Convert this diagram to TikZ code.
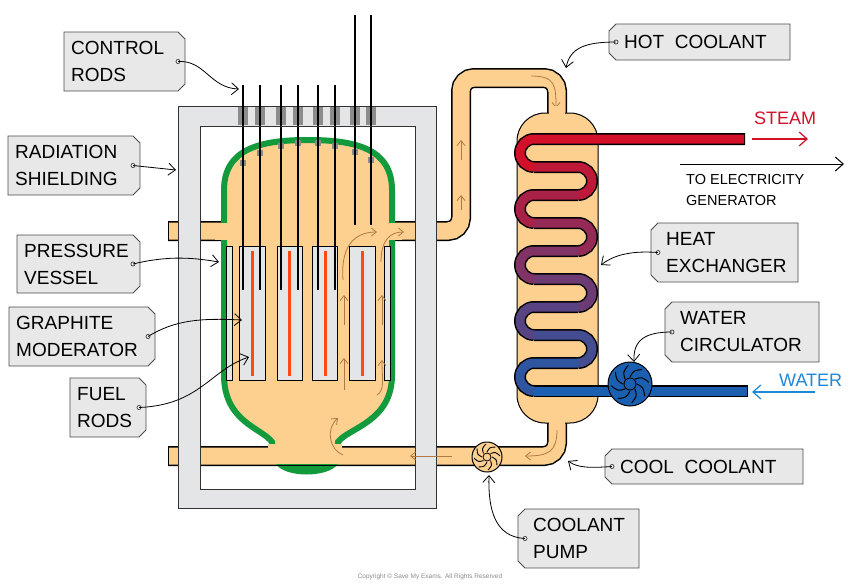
\documentclass[tikz,border=0pt]{standalone}
\usepackage{fontspec}
\setmainfont{Liberation Sans}
\usetikzlibrary{arrows.meta,calc}
\definecolor{cool}{HTML}{FDD08F}
\definecolor{vgreen}{HTML}{139A3C}
\definecolor{shield}{HTML}{E4E5E6}
\definecolor{tagfill}{HTML}{E8E8E8}
\definecolor{fuel}{HTML}{FF4A12}
\definecolor{steamred}{HTML}{D3102A}
\definecolor{waterblue}{HTML}{1A5FB0}
\definecolor{flow}{HTML}{B07A45}
\definecolor{lblue}{HTML}{1E88D8}
\tikzset{
  lbl/.style={font=\fontsize{19}{27}\selectfont, align=left, anchor=west, inner sep=0pt},
  tagshape/.style={fill=tagfill, draw=black!70, line width=0.9pt},
  hole/.style={draw=black!80, fill=white, line width=0.7pt},
  conn/.style={line width=0.8pt, -{Straight Barb[length=7pt,width=12pt]}},
  pipeout/.style={line width=20pt, black, rounded corners=13pt},
  pipein/.style={line width=17pt, cool, rounded corners=13pt},
  flowarr/.style={flow, line width=0.8pt, -{Straight Barb[length=5pt,width=8pt]}},
}
\newcommand\tagR[7]{% name x1 y1 x2 y2 text holename
  \draw[tagshape] (#2,#3) -- ({#4-7},#3) -- (#4,{#3+7}) -- (#4,{#5-7}) -- ({#4-7},#5) -- (#2,#5) -- cycle;
  \node[lbl] (#1) at ({#2+7},{(#3+#5)/2}) {#6};
  \coordinate (#7) at ({#4-7},{(#3+#5)/2});
  \draw[hole] (#7) circle (2pt);}
\newcommand\tagL[7]{%
  \draw[tagshape] ({#2+7},#3) -- (#4,#3) -- (#4,#5) -- ({#2+7},#5) -- (#2,{#5-7}) -- (#2,{#3+7}) -- cycle;
  \node[lbl] (#1) at ({#2+15},{(#3+#5)/2}) {#6};
  \coordinate (#7) at ({#2+7},{(#3+#5)/2});
  \draw[hole] (#7) circle (2pt);}
\begin{document}
\begin{tikzpicture}[x=1pt,y=-1pt]
\useasboundingbox (0,0) rectangle (854,584);
\fill[white] (0,0) rectangle (854,584);

% pipes
\draw[pipeout] (168,231) -- (461,231) -- (461,78) -- (557,78) -- (557,118);
\draw[pipeout] (168,456) -- (557,456) -- (557,418);
\draw[pipein] (169,231) -- (461,231) -- (461,78) -- (557,78) -- (557,118);
\draw[pipein] (169,456) -- (557,456) -- (557,418);

% vessel
\path[draw=vgreen, line width=6pt, fill=cool] (272,449) -- (272,442) .. controls (262,428) and (224,422) .. (224,375) -- (224,190) .. controls (224,148) and (262,140) .. (308,140) .. controls (354,140) and (392,148) .. (392,190) -- (392,375) .. controls (392,422) and (348,428) .. (338,442) -- (338,449);
\fill[vgreen] (276,464) .. controls (285,478) and (328,478) .. (338,464) -- cycle;
\fill[cool] (215,223) rectangle (232,240);
\fill[cool] (384,223) rectangle (402,240);
\fill[cool] (268,444) rectangle (342,456);
\draw[black, line width=1pt] (276,465) -- (338,465);

% dome gray pieces
\foreach \x/\y in {243/163,260/153,281/146,298/143,318/143,335/146,355/152,371/160}
  \fill[black!45] (\x-3,\y-3) rectangle (\x+3,\y+3);

% moderator blocks
\foreach \a/\b in {239/265,277/302,312/337,349/375,226/232,384/390}
  \draw[fill=shield, line width=0.9pt] (\a,246) rectangle (\b,380);
\foreach \x in {252,289,325,362}
  \draw[fuel, line width=3pt] (\x,251) -- (\x,376);

% control rods
\foreach \x in {243,260,281,298,318,335}
  \draw[line width=1.4pt] (\x,85) -- (\x,290);
\foreach \x in {355,371}
  \draw[line width=1.4pt] (\x,15) -- (\x,225);

% shielding
\path[fill=shield, draw=black!80, line width=0.9pt, even odd rule] (178,106) rectangle (436,508) (200,126) rectangle (415,489);
\foreach \x in {243,260,281,298,318,335,355,371}{
  \fill[black!45] (\x-5,107) rectangle (\x+5,125);
  \draw[line width=1.4pt] (\x,106) -- (\x,126);}

% flow arrows reactor
\draw[flowarr] (344,325) -- (344,295);
\draw[flowarr] (344,390) -- (344,358);
\draw[flowarr] (382,325) -- (382,295);
\draw[flowarr] (377,395) .. controls (385,390) and (382,380) .. (382,360);
\draw[flowarr] (343,280) .. controls (340,240) and (360,232) .. (377,232);
\draw[flowarr] (381,262) .. controls (381,240) and (390,232) .. (404,232);
\draw[flowarr] (343,455) .. controls (330,450) and (325,430) .. (338,418);
\draw[flowarr] (452,456) -- (410,456);
\draw[flowarr] (461,160) -- (461,140);
\draw[flowarr] (461,210) -- (461,195);
\draw[flowarr] (531,76) .. controls (555,76) and (556,85) .. (556,108);
\draw[flowarr] (557,430) .. controls (557,452) and (548,456) .. (525,456);

% heat exchanger
\draw[fill=cool, line width=1pt, rounded corners=28pt] (517,113) rectangle (598,423);
\fill[cool] (549,106) rectangle (565,116);
\fill[cool] (549,420) rectangle (565,430);

% coil
\foreach \w in {12,9}{
\foreach \i in {0,...,9}{
  \pgfmathsetmacro\yy{139+28*\i}
  \pgfmathtruncatemacro\pp{\i*11}
  \colorlet{segc}{waterblue!\pp!steamred}
  \ifnum\w=12 \colorlet{segc}{black}\fi
  \ifodd\i
    \ifnum\i=9
      \draw[segc, line width=\w pt] (534,\yy) -- ({\w==12?748:747},\yy);
    \else
      \draw[segc, line width=\w pt] (534,\yy) -- (578,\yy) arc(270:450:14);
    \fi
  \else
    \pgfmathsetmacro\xs{\i==0?(\w==12?745:744):578}
    \draw[segc, line width=\w pt] (\xs,\yy) -- (534,\yy) arc(270:90:14);
  \fi}}

% pumps
\coordinate (pump) at (487,457);
\draw[fill=cool, line width=1pt] (pump) circle (15);
\draw[line width=0.8pt] (pump) circle (4);
\foreach \a in {0,45,...,315}
  \draw[line width=0.9pt] ($(pump)+(\a:5)$) .. controls ($(pump)+(\a+15:10)$) .. ($(pump)+(\a+40:13)$);
\coordinate (circ) at (630,384);
\draw[fill=waterblue, line width=1pt] (circ) circle (22);
\draw[line width=0.9pt] (circ) circle (6);
\foreach \a in {0,45,...,315}
  \draw[line width=1pt] ($(circ)+(\a:7)$) .. controls ($(circ)+(\a+15:14)$) .. ($(circ)+(\a+40:19)$);

% steam / water / generator
\node[font=\fontsize{18}{18}\selectfont, text=steamred] (steam) at (785,118) {STEAM};
\coordinate (s1) at (752,139); \coordinate (s2) at (808,139);
\draw[steamred, line width=1.2pt, -{Straight Barb[length=8pt,width=14pt]}] (s1) -- (s2);
\coordinate (g1) at (680,164); \coordinate (g2) at (844,164);
\draw[line width=1pt, -{Straight Barb[length=8pt,width=14pt]}] (g1) -- (g2);
\node[font=\fontsize{14.5}{21}\selectfont, align=left, anchor=north west, inner sep=0pt] (gen) at (686,174) {TO ELECTRICITY\\GENERATOR};
\node[font=\fontsize{18}{18}\selectfont, text=lblue, anchor=west, inner sep=0pt] (water) at (779,380) {WATER};
\coordinate (w1) at (815,392); \coordinate (w2) at (752,392);
\draw[lblue, line width=1.2pt, -{Straight Barb[length=8pt,width=14pt]}] (w1) -- (w2);

% tags
\tagR{tcr}{64}{32}{185}{91}{CONTROL\\RODS}{hcr}
\tagR{trs}{8}{136}{140}{195}{RADIATION\\SHIELDING}{hrs}
\tagR{tpv}{17}{235}{140}{293}{PRESSURE\\VESSEL}{hpv}
\tagR{tgm}{9}{307}{155}{366}{GRAPHITE\\MODERATOR}{hgm}
\tagR{tfr}{70}{378}{146}{437}{FUEL\\RODS}{hfr}
\tagL{thc}{609}{24}{790}{60}{HOT\ \ COOLANT}{hhc}
\tagL{the}{651}{223}{798}{282}{HEAT\\EXCHANGER}{hhe}
\tagL{twc}{665}{302}{819}{362}{WATER\\CIRCULATOR}{hwc}
\tagL{tcc}{605}{449}{803}{484}{COOL\ \ COOLANT}{hcc}
\tagL{tcp}{518}{509}{639}{568}{COOLANT\\PUMP}{hcp}

\coordinate (acr) at (239,89);
\coordinate (ars) at (176,170);
\coordinate (apv) at (219,262);
\coordinate (agm) at (242,320);
\coordinate (afr) at (249,357);
\coordinate (ahc) at (566,68);
\coordinate (ahe) at (601,265);
\coordinate (awc) at (634,362);
\coordinate (acc) at (568,461);
\coordinate (acp) at (489,475);
\draw[conn] (hcr) .. controls (205,60) and (210,88) .. (acr);
\draw[conn] (hrs) -- (ars);
\draw[conn] (hpv) .. controls (170,255) and (195,258) .. (apv);
\draw[conn] (hgm) .. controls (175,320) and (200,318) .. (agm);
\draw[conn] (hfr) .. controls (200,405) and (210,370) .. (afr);
\draw[conn] (hhc) .. controls (585,42) and (570,48) .. (ahc);
\draw[conn] (hhe) .. controls (625,250) and (610,258) .. (ahe);
\draw[conn] (hwc) .. controls (645,332) and (633,340) .. (awc);
\draw[conn] (hcc) .. controls (590,468) and (578,468) .. (acc);
\draw[conn] (hcp) .. controls (495,537) and (488,510) .. (acp);

\node[font=\fontsize{6.5}{7}\selectfont, text=black!45] (copy) at (430,577) {Copyright © Save My Exams. All Rights Reserved};
\end{tikzpicture}
\end{document}
